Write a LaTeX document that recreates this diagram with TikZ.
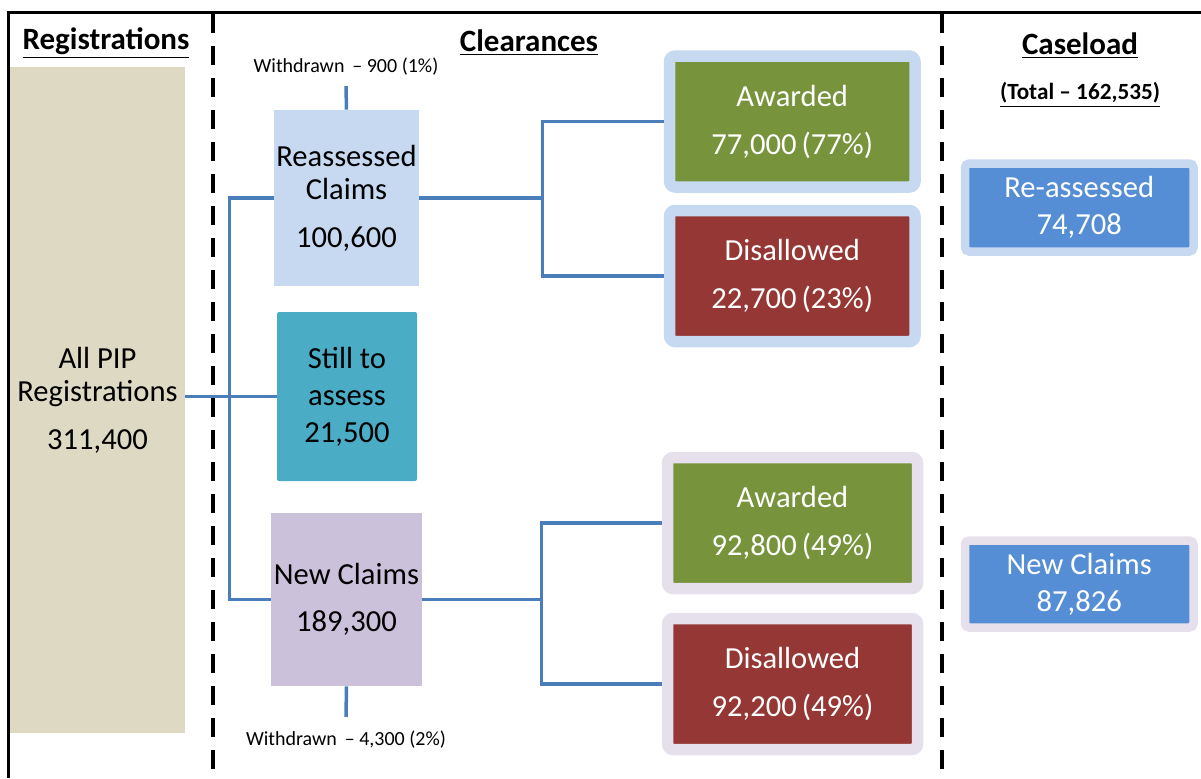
\documentclass[tikz,border=0pt]{standalone}
\usepackage{fontspec}
\setmainfont{Carlito}
\usetikzlibrary{positioning}

\definecolor{pipTan}{HTML}{DDD9C3}
\definecolor{reassBlue}{HTML}{C6D9F1}
\definecolor{stillTeal}{HTML}{4BACC6}
\definecolor{newLilac}{HTML}{CCC1DA}
\definecolor{lilacFrame}{HTML}{E5E0EC}
\definecolor{linkBlue}{HTML}{4A7EBB}
\definecolor{awardGreen}{HTML}{77933C}
\definecolor{disRed}{HTML}{953735}
\definecolor{caseBlue}{HTML}{558ED5}

\begin{document}
\begin{tikzpicture}[x=0.5pt,y=-0.5pt,align=center,
        box/.style={inner sep=0pt,font=\fontsize{15.3}{16.5}\selectfont},
        outcome/.style={box,text=white,line width=5.75pt,rounded corners=2.9pt,
                        minimum width=122.75pt,minimum height=65.5pt},
        casebox/.style={box,text=white,fill=caseBlue,line width=4.25pt,rounded corners=2.1pt,
                        minimum width=114.25pt,minimum height=44pt},
        heading/.style={font=\fontsize{15.5}{18}\selectfont\bfseries},
        note/.style={inner sep=0pt,font=\fontsize{10}{12}\selectfont},
        link/.style={draw=linkBlue,line width=1.75pt},
        divider/.style={line width=2pt,dash pattern=on 9.5pt off 6.5pt}]
    \useasboundingbox (0,0) rectangle (1201,778);

    % frame and column dividers
    \draw[line width=1.5pt] (1201,12) -- (8,12) -- (8,778);
    \draw[divider] (213,14) -- (213,778);
    \draw[divider] (942,14) -- (942,778);

    \node[heading] (hreg) at (106,43) {\underline{Registrations}};
    \node[heading] (hclr) at (529,43) {\underline{Clearances}};
    \node[heading] (hcase) at (1080,46) {\underline{Caseload}};
    \node[note,font=\fontsize{11.6}{13}\selectfont\bfseries] (total) at (1080,95) {\underline{(Total -- 162,535)}};

    % registrations and clearances
    \node[box,fill=pipTan,minimum width=87.5pt,minimum height=333pt] (pip) at (97.5,400)
        {All PIP\\Registrations\\[7.5pt]311,400};
    \node[box,fill=reassBlue,minimum width=72.5pt,minimum height=88pt] (reass) at (346.5,198)
        {Reassessed\\Claims\\[7.5pt]100,600};
    \node[box,fill=stillTeal,rounded corners=1pt,minimum width=70pt,minimum height=84.5pt] (still) at (347,396.5)
        {Still to\\[2pt]assess\\[2pt]21,500};
    \node[box,fill=newLilac,minimum width=75.5pt,minimum height=86.5pt] (new) at (346.5,599.5)
        {New Claims\\[7pt]189,300};

    \node[note] (wd1) at (346,67) {Withdrawn \,-- 900 (1\%)};
    \node[note] (wd2) at (346,740) {Withdrawn \,-- 4,300 (2\%)};

    % outcomes
    \node[outcome,draw=reassBlue,fill=awardGreen] (aw1) at (792.25,121.5) {Awarded\\[7.5pt]77,000\,(77\%)};
    \node[outcome,draw=reassBlue,fill=disRed] (dis1) at (792.25,276) {Disallowed\\[7.5pt]22,700\,(23\%)};
    \node[outcome,draw=lilacFrame,fill=awardGreen,minimum width=125pt] (aw2) at (792.5,523) {Awarded\\[7.5pt]92,800\,(49\%)};
    \node[outcome,draw=lilacFrame,fill=disRed,minimum width=125pt] (dis2) at (792.5,684) {Disallowed\\[7.5pt]92,200\,(49\%)};

    % caseload
    \node[casebox,draw=reassBlue] (cs1) at (1079.25,207.5) {Re-assessed\\[2pt]74,708};
    \node[casebox,draw=lilacFrame,minimum height=43.5pt] (cs2) at (1079.25,584) {New Claims\\[2pt]87,826};

    % connectors
    \draw[link] (pip.east |- still.west) -- (still.west);
    \draw[link] (reass.west) -- ++(-44,0) |- (new.west);
    \draw[link] (reass.east) -- ++(123,0) coordinate (fork1);
    \draw[link] (aw1.west) -| (fork1) |- (dis1.west);
    \draw[link] (new.east) -- ++(119,0) coordinate (fork2);
    \draw[link] (aw2.west) -| (fork2) |- (dis2.west);
    \draw[link] (reass.north) -- ([yshift=-5pt]wd1.south);
    \draw[link] (new.south) -- ([yshift=7pt]wd2.north);
\end{tikzpicture}
\end{document}
